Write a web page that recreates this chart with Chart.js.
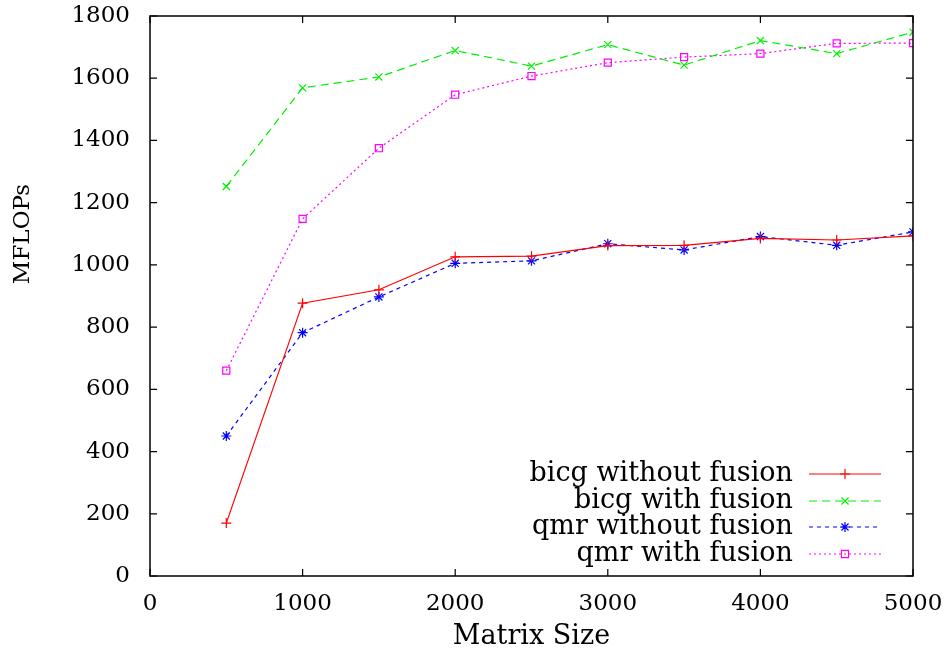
<!DOCTYPE html>
<html>
<head>
<meta charset="utf-8">
<script src="https://cdn.jsdelivr.net/npm/chart.js@4/dist/chart.umd.min.js"></script>
<style>
  html, body { margin: 0; padding: 0; background: #fff; }
  #wrap { width: 950px; height: 657px; position: relative; }
</style>
</head>
<body>
<div id="wrap"><canvas id="c"></canvas></div>
<script>
// ---- data ----
const matrixSizes = [500, 1000, 1500, 2000, 2500, 3000, 3500, 4000, 4500, 5000];
const bicgWithout = [170, 877, 920, 1026, 1028, 1062, 1063, 1085, 1080, 1093];
const bicgWith    = [1252, 1569, 1604, 1689, 1639, 1708, 1642, 1721, 1679, 1748];
const qmrWithout  = [450, 782, 897, 1005, 1013, 1068, 1048, 1091, 1063, 1106];
const qmrWith     = [660, 1148, 1375, 1547, 1607, 1650, 1668, 1679, 1712, 1713];
const seriesNames = ['bicg without fusion', 'bicg with fusion', 'qmr without fusion', 'qmr with fusion'];
const xTitle = 'Matrix Size';
const yTitle = 'MFLOPs';

const FONT = '"DejaVu Serif", "Liberation Serif", serif';
const FS = 23;
const FS_BIG = 27;

function pts(vals) { return matrixSizes.map((x, i) => ({ x: x, y: vals[i] })); }

const styles = [
  { color: '#ff0000', dash: [],     point: 'cross' },
  { color: '#00ee00', dash: [8, 5], point: 'crossRot' },
  { color: '#0000ff', dash: [4, 4], point: 'star' },
  { color: '#ff00ff', dash: [2, 3], point: 'rect' }
];
const allVals = [bicgWithout, bicgWith, qmrWithout, qmrWith];

const datasets = allVals.map((v, i) => ({
  label: seriesNames[i],
  data: pts(v),
  borderColor: styles[i].color,
  backgroundColor: 'rgba(0,0,0,0)',
  borderWidth: 1.2,
  borderDash: styles[i].dash,
  pointStyle: styles[i].point,
  pointRadius: 5,
  pointBorderWidth: 1.2,
  pointBorderColor: styles[i].color,
  pointBackgroundColor: 'rgba(0,0,0,0)',
  tension: 0
}));

const framePlugin = {
  id: 'frame',
  afterDraw(chart) {
    const ctx = chart.ctx, a = chart.chartArea;
    const xs = chart.scales.x, ys = chart.scales.y;
    ctx.save();
    ctx.strokeStyle = '#000';
    ctx.lineWidth = 1.5;
    ctx.setLineDash([]);
    ctx.strokeRect(a.left, a.top, a.right - a.left, a.bottom - a.top);
    ctx.lineWidth = 1.2;
    const L = 7;
    xs.ticks.forEach(t => {
      const px = xs.getPixelForValue(t.value);
      ctx.beginPath();
      ctx.moveTo(px, a.bottom); ctx.lineTo(px, a.bottom - L);
      ctx.moveTo(px, a.top); ctx.lineTo(px, a.top + L);
      ctx.stroke();
    });
    ys.ticks.forEach(t => {
      const py = ys.getPixelForValue(t.value);
      ctx.beginPath();
      ctx.moveTo(a.left, py); ctx.lineTo(a.left + L, py);
      ctx.moveTo(a.right, py); ctx.lineTo(a.right - L, py);
      ctx.stroke();
    });
    ctx.fillStyle = '#000';
    ctx.textAlign = 'center';
    ctx.textBaseline = 'middle';
    // x title
    ctx.font = FS_BIG + 'px ' + FONT;
    ctx.fillText(xTitle, (a.left + a.right) / 2, 637);
    // y title
    ctx.font = FS + 'px ' + FONT;
    ctx.translate(23, 234);
    ctx.rotate(-Math.PI / 2);
    ctx.fillText(yTitle, 0, 0);
    ctx.restore();

    // legend
    ctx.save();
    ctx.font = FS_BIG + 'px ' + FONT;
    ctx.textAlign = 'right';
    ctx.textBaseline = 'middle';
    const rows = [474, 501, 527, 554];
    chart.data.datasets.forEach((ds, i) => {
      const y = rows[i];
      ctx.fillStyle = '#000';
      ctx.fillText(ds.label, 793, y);
      ctx.strokeStyle = ds.borderColor;
      ctx.lineWidth = ds.borderWidth;
      ctx.setLineDash(ds.borderDash);
      ctx.beginPath();
      ctx.moveTo(809, y); ctx.lineTo(881, y);
      ctx.stroke();
      ctx.setLineDash([]);
      ctx.fillStyle = 'rgba(0,0,0,0)';
      Chart.helpers.drawPoint(ctx, {
        pointStyle: ds.pointStyle, radius: ds.pointRadius, rotation: 0,
        borderWidth: ds.pointBorderWidth
      }, 845, y);
    });
    ctx.restore();
  }
};

new Chart(document.getElementById('c'), {
  type: 'line',
  data: { datasets: datasets },
  plugins: [framePlugin],
  options: {
    responsive: true,
    maintainAspectRatio: false,
    animation: false,
    layout: { padding: { left: 0, right: 37, top: 16, bottom: 0 } },
    plugins: { legend: { display: false }, tooltip: { enabled: false } },
    scales: {
      x: {
        type: 'linear', min: 0, max: 5000,
        border: { display: false },
        grid: { display: false, drawTicks: false },
        ticks: { stepSize: 1000, color: '#000', font: { family: FONT, size: FS }, padding: 14, maxRotation: 0,
                 callback: v => String(v) },
        afterFit(s) { s.height = 81; s.paddingLeft = 0; s.paddingRight = 0; }
      },
      y: {
        min: 0, max: 1800,
        border: { display: false },
        grid: { display: false, drawTicks: false },
        ticks: { stepSize: 200, color: '#000', font: { family: FONT, size: FS }, padding: 20,
                 callback: v => String(v) },
        afterFit(s) { s.width = 150; s.paddingTop = 0; s.paddingBottom = 0; }
      }
    }
  }
});
</script>
</body>
</html>
